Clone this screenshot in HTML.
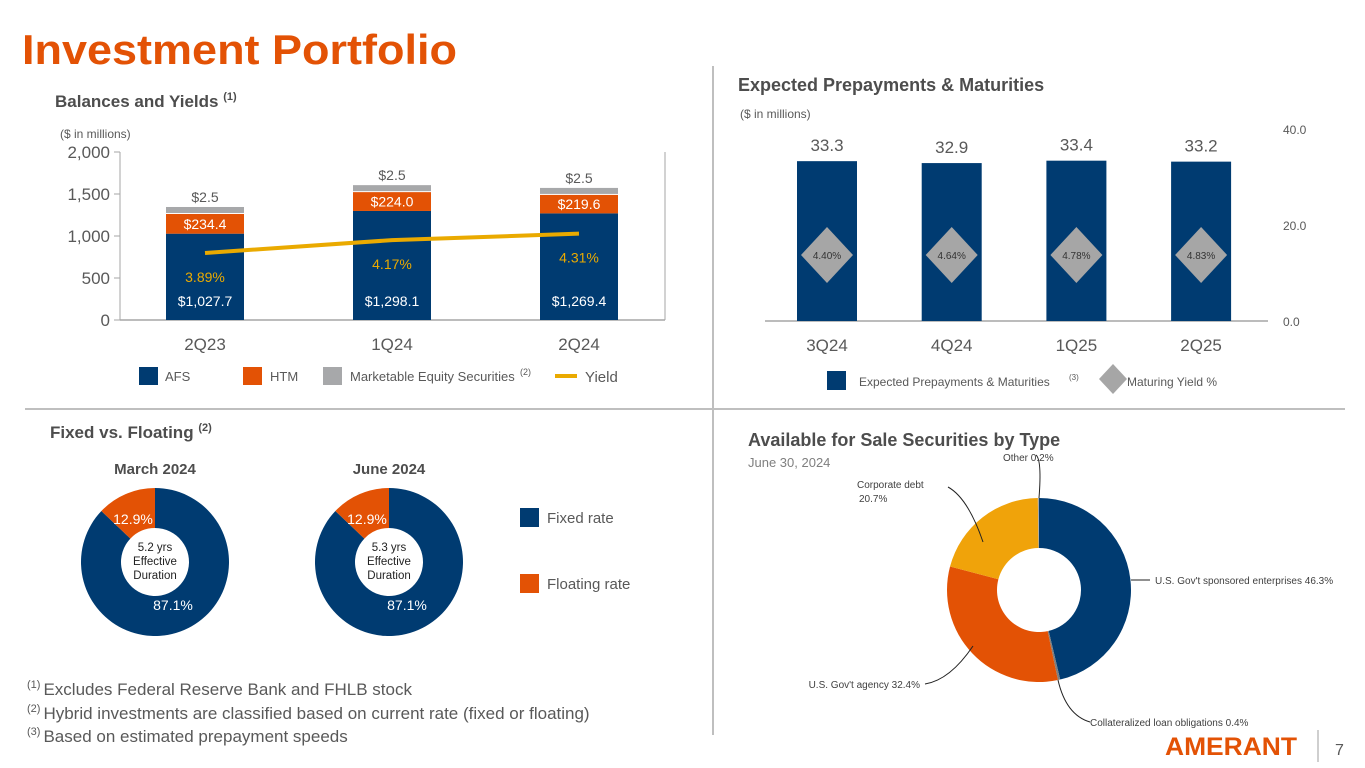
<!DOCTYPE html>
<html><head><meta charset="utf-8"><style>
html,body{margin:0;padding:0;background:#fff;width:1365px;height:768px;overflow:hidden}
svg{display:block;font-family:"Liberation Sans",sans-serif}
</style></head><body>
<svg id="s" width="1365" height="768" viewBox="0 0 1365 768" xmlns="http://www.w3.org/2000/svg">
<text x="22" y="64" font-size="42" font-weight="bold" fill="#E35205" textLength="435" lengthAdjust="spacingAndGlyphs">Investment Portfolio</text>
<line x1="713" y1="66" x2="713" y2="735" stroke="#BFBFBF" stroke-width="2"/>
<line x1="25" y1="409" x2="1345" y2="409" stroke="#BFBFBF" stroke-width="2"/>

<text x="55" y="107" font-size="17" font-weight="bold" fill="#4D4D4D">Balances and Yields <tspan font-size="11" dy="-7">(1)</tspan></text>
<text x="60" y="138" font-size="12" fill="#595959">($ in millions)</text>
<g id="c1"></g>

<text x="738" y="91" font-size="18" font-weight="bold" fill="#4D4D4D">Expected Prepayments &amp; Maturities</text>
<text x="740" y="118" font-size="12" fill="#595959">($ in millions)</text>
<g id="c2"></g>

<text x="50" y="438" font-size="17" font-weight="bold" fill="#4D4D4D">Fixed vs. Floating <tspan font-size="11" dy="-7">(2)</tspan></text>
<g id="c3"></g>

<text x="748" y="446" font-size="18" font-weight="bold" fill="#4D4D4D">Available for Sale Securities by Type</text>
<text x="748" y="467" font-size="13" fill="#7F7F7F">June 30, 2024</text>
<g id="c4"></g>

<g fill="#595959">
<text x="27" y="695" font-size="17"><tspan font-size="11" dy="-7">(1)</tspan><tspan dy="7" dx="3">Excludes Federal Reserve Bank and FHLB stock</tspan></text>
<text x="27" y="719" font-size="17"><tspan font-size="11" dy="-7">(2)</tspan><tspan dy="7" dx="3">Hybrid investments are classified based on current rate (fixed or floating)</tspan></text>
<text x="27" y="742" font-size="17"><tspan font-size="11" dy="-7">(3)</tspan><tspan dy="7" dx="3">Based on estimated prepayment speeds</tspan></text>
</g>
<text x="1165" y="755" font-size="25" font-weight="bold" fill="#E35205" textLength="132" lengthAdjust="spacingAndGlyphs">AMERANT</text>
<line x1="1318" y1="730" x2="1318" y2="762" stroke="#BFBFBF" stroke-width="1.5"/>
<text x="1335" y="755" font-size="16" fill="#595959">7</text>
</svg>
<script>
const NS="http://www.w3.org/2000/svg";
function mk(p,tag,at,txt){const e=document.createElementNS(NS,tag);for(const k in at)e.setAttribute(k,at[k]);if(txt!==undefined)e.textContent=txt;p.appendChild(e);return e;}
const NAVY="#003B71",ORANGE="#E35205",GRAY="#A7A8AA",YEL="#EAAA00",TXT="#595959";

// ---------- Chart 1 data ----------
const c1Categories=["2Q23","1Q24","2Q24"];
const c1Afs=[1027.7,1298.1,1269.4];
const c1Htm=[234.4,224.0,219.6];
const c1Mes=[2.5,2.5,2.5];
const c1Yield=[3.89,4.17,4.31];
const c1Ticks=[0,500,1000,1500,2000];

const c1=document.getElementById('c1');
const y1=v=>320-v*0.084;
const x1=i=>205+i*187;
const yy=v=>253-(v-3.89)*46;
mk(c1,'line',{x1:120,y1:152,x2:120,y2:320,stroke:"#A6A6A6"});
mk(c1,'line',{x1:665,y1:152,x2:665,y2:320,stroke:"#A6A6A6"});
mk(c1,'line',{x1:120,y1:320,x2:665,y2:320,stroke:"#A6A6A6","stroke-width":1.5});
c1Ticks.forEach(t=>{
  mk(c1,'line',{x1:114,y1:y1(t),x2:120,y2:y1(t),stroke:"#A6A6A6"});
  const l=mk(c1,'text',{x:110,y:y1(t)+6,"font-size":17,fill:TXT,"text-anchor":"end"},t.toLocaleString('en-US'));
  
  
});
c1Categories.forEach((c,i)=>{
  const cx=x1(i),w=78;
  const a=mk(c1,'rect',{x:cx-w/2,y:y1(c1Afs[i]),width:w,height:320-y1(c1Afs[i]),fill:NAVY});
  
  
  const top1=y1(c1Afs[i]),top2=y1(c1Afs[i]+c1Htm[i]);
  const h=mk(c1,'rect',{x:cx-w/2,y:top2,width:w,height:top1-top2,fill:ORANGE});
  
  
  const mh=Math.max(6,c1Mes[i]*0.084);
  const g=mk(c1,'rect',{x:cx-w/2,y:top2-1-mh,width:w,height:mh,fill:GRAY});
  
  
  const t1=mk(c1,'text',{x:cx,y:306,"font-size":14,fill:"#fff","text-anchor":"middle"},"$"+c1Afs[i].toLocaleString('en-US',{minimumFractionDigits:1}));
  
  
  const t2=mk(c1,'text',{x:cx,y:(top1+top2)/2+5,"font-size":14,fill:"#fff","text-anchor":"middle"},"$"+c1Htm[i].toFixed(1));
  
  
  const t3=mk(c1,'text',{x:cx,y:top2-mh-6,"font-size":14,fill:TXT,"text-anchor":"middle"},"$"+c1Mes[i].toFixed(1));
  
  
  const t4=mk(c1,'text',{x:cx,y:yy(c1Yield[i])+29,"font-size":14,fill:YEL,"text-anchor":"middle"},c1Yield[i].toFixed(2)+"%");
  
  
  const xl=mk(c1,'text',{x:cx,y:350,"font-size":17,fill:TXT,"text-anchor":"middle"},c);
  
  
});
const yl=mk(c1,'polyline',{points:c1Yield.map((v,i)=>x1(i)+","+yy(v)).join(" "),fill:"none",stroke:YEL,"stroke-width":4});


[[139,"#003B71","AFS",165],[243,ORANGE,"HTM",270],[323,GRAY,"Marketable Equity Securities",350]].forEach(([x,col,lab,tx])=>{
  const r=mk(c1,'rect',{x:x,y:367,width:19,height:18,fill:col});
  
  
  const t=mk(c1,'text',{x:tx,y:381,"font-size":13,fill:TXT},lab);
  
  
});
mk(c1,'text',{x:520,y:375,"font-size":9,fill:TXT},"(2)");
mk(c1,'line',{x1:555,y1:376,x2:577,y2:376,stroke:YEL,"stroke-width":4});
const ly=mk(c1,'text',{x:585,y:382,"font-size":15,fill:TXT},"Yield");



// ---------- Chart 2 data ----------
const c2Categories=["3Q24","4Q24","1Q25","2Q25"];
const c2Values=[33.3,32.9,33.4,33.2];
const c2Yields=[4.40,4.64,4.78,4.83];
const c2Ticks=[0,20,40];
const c2=document.getElementById('c2');
const y2=v=>321-v*4.8;
const x2=i=>827+i*124.7;
mk(c2,'line',{x1:765,y1:321,x2:1268,y2:321,stroke:"#A6A6A6","stroke-width":1.5});
c2Ticks.forEach(t=>{
  const l=mk(c2,'text',{x:1283,y:y2(t)+5,"font-size":12,fill:TXT},t.toFixed(1));
  
  
});
c2Categories.forEach((c,i)=>{
  const cx=x2(i);
  const b=mk(c2,'rect',{x:cx-30,y:y2(c2Values[i]),width:60,height:321-y2(c2Values[i]),fill:NAVY});
  
  
  const v=mk(c2,'text',{x:cx,y:y2(c2Values[i])-10,"font-size":17,fill:TXT,"text-anchor":"middle"},c2Values[i].toFixed(1));
  
  
  const dy=255;
  const d=mk(c2,'polygon',{points:`${cx},${dy-28} ${cx+26},${dy} ${cx},${dy+28} ${cx-26},${dy}`,fill:"#A6A6A6"});
  
  
  const dt=mk(c2,'text',{x:cx,y:dy+4,"font-size":10,fill:"#333","text-anchor":"middle"},c2Yields[i].toFixed(2)+"%");
  
  
  const xl=mk(c2,'text',{x:cx,y:351,"font-size":17,fill:TXT,"text-anchor":"middle"},c);
  
  
});
const l2a=mk(c2,'rect',{x:827,y:371,width:19,height:19,fill:NAVY});


const l2t=mk(c2,'text',{x:859,y:386,"font-size":12,fill:TXT},"Expected Prepayments & Maturities");


mk(c2,'text',{x:1069,y:380,"font-size":8,fill:TXT},"(3)");
const l2d=mk(c2,'polygon',{points:"1113,364 1127,379 1113,394 1099,379",fill:"#A6A6A6"});


const l2y=mk(c2,'text',{x:1127,y:386,"font-size":12,fill:TXT},"Maturing Yield %");



// ---------- Chart 3 data ----------
const c3Titles=["March 2024","June 2024"];
const c3Floating=[12.9,12.9];
const c3Fixed=[87.1,87.1];
const c3Duration=["5.2 yrs","5.3 yrs"];
const c3=document.getElementById('c3');
function arc(cx,cy,ro,ri,a0,a1){
  const p=(r,a)=>[cx+r*Math.sin(a*2*Math.PI),cy-r*Math.cos(a*2*Math.PI)];
  const lg=(a1-a0)>0.5?1:0;
  const [x0,y0]=p(ro,a0),[x1_,y1_]=p(ro,a1),[x2_,y2_]=p(ri,a1),[x3,y3]=p(ri,a0);
  return `M${x0},${y0} A${ro},${ro} 0 ${lg} 1 ${x1_},${y1_} L${x2_},${y2_} A${ri},${ri} 0 ${lg} 0 ${x3},${y3} Z`;
}
c3Titles.forEach((t,i)=>{
  const cx=155+i*234,cy=562;
  const tt=mk(c3,'text',{x:cx,y:474,"font-size":15,"font-weight":"bold",fill:"#4D4D4D","text-anchor":"middle"},t);
  
  
  const tot=c3Fixed[i]+c3Floating[i];
  const fl=c3Floating[i]/tot;
  const f=mk(c3,'path',{d:arc(cx,cy,74,34,0,1-fl),fill:NAVY});
  
  
  const o=mk(c3,'path',{d:arc(cx,cy,74,34,1-fl,1),fill:ORANGE});
  
  
  const a=mk(c3,'text',{x:cx-22,y:524,"font-size":14,fill:"#fff","text-anchor":"middle"},c3Floating[i].toFixed(1)+"%");
  
  
  const b=mk(c3,'text',{x:cx+18,y:610,"font-size":14,fill:"#fff","text-anchor":"middle"},c3Fixed[i].toFixed(1)+"%");
  
  
  [c3Duration[i],"Effective","Duration"].forEach((s,k)=>{
    const d=mk(c3,'text',{x:cx,y:551+k*14,"font-size":11.5,fill:"#222","text-anchor":"middle"},s);
    
    
  });
});
[[508,NAVY,"Fixed rate"],[574,ORANGE,"Floating rate"]].forEach(([y,c,l])=>{
  const r=mk(c3,'rect',{x:520,y:y,width:19,height:19,fill:c});
  
  
  const t=mk(c3,'text',{x:547,y:y+15,"font-size":15,fill:TXT},l);
  
  
});

// ---------- Chart 4 data ----------
const c4Labels=["U.S. Gov't sponsored enterprises  46.3%","Collateralized loan obligations 0.4%","U.S. Gov't agency  32.4%","Corporate debt","Other 0.2%"];
const c4Values=[46.3,0.4,32.4,20.7,0.2];
const c4Colors=[NAVY,"#7F7F7F",ORANGE,"#F0A30A","#A6A6A6"];
const c4=document.getElementById('c4');
const cx4=1039,cy4=590;
let acc=0;const tot4=c4Values.reduce((a,b)=>a+b,0);
c4Values.forEach((v,i)=>{
  const a0=acc/tot4,a1=(acc+v)/tot4;acc+=v;
  const p=mk(c4,'path',{d:arc(cx4,cy4,92,42,a0,a1),fill:c4Colors[i]});
  
  
});
const ld="none";
mk(c4,'path',{d:"M1131,580 L1150,580",stroke:"#222",fill:ld});
mk(c4,'path',{d:"M1058,680 Q1066,715 1090,722",stroke:"#222",fill:ld});
mk(c4,'path',{d:"M973,646 Q950,680 925,684",stroke:"#222",fill:ld});
mk(c4,'path',{d:"M983,542 Q968,498 948,487",stroke:"#222",fill:ld});
mk(c4,'path',{d:"M1036,455 Q1042,460 1039,498",stroke:"#222",fill:ld});
const la=[[1155,584,"start",c4Labels[0]],[1090,726,"start",c4Labels[1]],[920,688,"end",c4Labels[2]],[857,488,"start",c4Labels[3]],[1003,461,"start",c4Labels[4]]];
la.forEach(([x,y,an,s])=>{
  const t=mk(c4,'text',{x:x,y:y,"font-size":10,fill:"#404040","text-anchor":an},s);
  
  
});
const cp=mk(c4,'text',{x:859,y:502,"font-size":10,fill:"#404040"},c4Values[3].toFixed(1)+"%");


</script>
</body></html>
